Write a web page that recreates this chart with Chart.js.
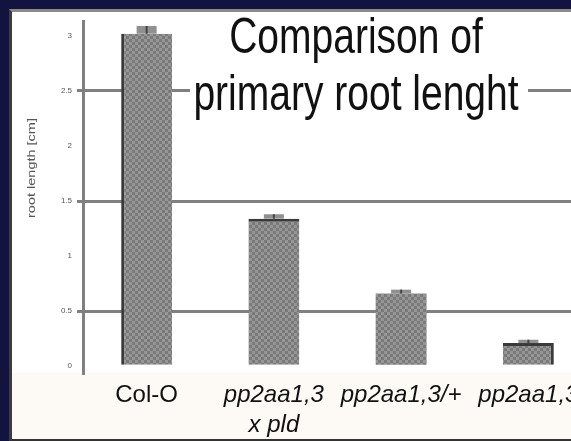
<!DOCTYPE html>
<html lang="en">
<head>
    <meta charset="UTF-8">
    <title>Comparison of primary root lenght</title>
    <script src="https://cdn.jsdelivr.net/npm/chart.js@4/dist/chart.umd.min.js"></script>
    <style>
        body { margin: 0; background: #131340; width: 571px; height: 441px; overflow: hidden; }
        #frame {
            position: absolute; left: 9px; top: 9px; width: 600px; height: 427px;
            border-left: 3px solid #3c3c3c; border-top: 3px solid #8a8a8a; border-bottom: 2px solid #333;
        }
        #clip {
            position: absolute; left: 0; top: 0; width: 559px; height: 427px; overflow: hidden;
            background: linear-gradient(#fff 0, #fff 361px, #fdfaf6 361px);
        }
    </style>
</head>
<body>
    <div id="frame">
        <div id="clip">
            <canvas id="rootChart" width="580" height="427"></canvas>
        </div>
    </div>

    <script>
        // data
        const categories = ['Col-O', ['pp2aa1,3', 'x pld'], 'pp2aa1,3/+', 'pp2aa1,3'];
        const rootLength = [3.02, 1.34, 0.66, 0.21];
        const rootLengthErr = [0.07, 0.04, 0.035, 0.03];
        const yTicks = [0, 0.5, 1, 1.5, 2, 2.5, 3];
        const gridTicks = [0.5, 1.5, 2.5];

        const canvas = document.getElementById('rootChart');
        const ctx = canvas.getContext('2d');

        // checkered grey fill like the scanned bars
        const pc = document.createElement('canvas');
        pc.width = 6; pc.height = 6;
        const p = pc.getContext('2d');
        p.fillStyle = '#969696'; p.fillRect(0, 0, 6, 6);
        p.fillStyle = '#7a7a7a'; p.fillRect(0, 0, 3, 3); p.fillRect(3, 3, 3, 3);
        const barPattern = ctx.createPattern(pc, 'repeat');

        const overlay = {
            id: 'overlay',
            afterDatasetsDraw(chart) {
                const c = chart.ctx;
                const y = chart.scales.y;
                chart.getDatasetMeta(0).data.forEach((bar, i) => {
                    const top = y.getPixelForValue(rootLength[i] + rootLengthErr[i]);
                    const bottom = y.getPixelForValue(rootLength[i]);
                    c.save();
                    c.fillStyle = '#909090';
                    c.fillRect(bar.x - 10, top, 20, bottom - top);
                    c.fillStyle = '#444';
                    c.fillRect(bar.x - 1, top, 2, bottom - top);
                    c.restore();
                });
            },
            afterDraw(chart) {
                const c = chart.ctx;
                c.save();
                // title sits in a white box over the grid
                c.fillStyle = '#fff';
                c.fillRect(178, 0, 338, 113);
                c.translate(344, 0);
                c.scale(0.78, 1);
                c.fillStyle = '#111';
                c.font = '50px "Liberation Sans", Arial, sans-serif';
                c.textAlign = 'center';
                c.textBaseline = 'alphabetic';
                c.fillText('Comparison of', 0, 41);
                c.fillText('primary root lenght', 0, 98);
                c.restore();

                // tiny rotated axis title
                c.save();
                c.translate(20, 156);
                c.rotate(-Math.PI / 2);
                c.scale(1.45, 1);
                c.fillStyle = '#555';
                c.font = '10px "Liberation Sans", Arial, sans-serif';
                c.textAlign = 'center';
                c.textBaseline = 'middle';
                c.fillText('root length [cm]', 0, 0);
                c.restore();
            }
        };

        new Chart(ctx, {
            type: 'bar',
            data: {
                labels: categories,
                datasets: [{
                    data: rootLength,
                    backgroundColor: barPattern,
                    borderColor: '#3a3a3a',
                    borderSkipped: false,
                    borderWidth: [
                        { left: 3, top: 0, right: 0, bottom: 0 },
                        { left: 0, top: 3, right: 0, bottom: 0 },
                        0,
                        { left: 0, top: 3, right: 3, bottom: 0 }
                    ],
                    barPercentage: 0.4,
                    categoryPercentage: 1
                }]
            },
            options: {
                responsive: false,
                animation: false,
                devicePixelRatio: 1,
                layout: { padding: 0 },
                plugins: {
                    legend: { display: false },
                    tooltip: { enabled: false }
                },
                scales: {
                    x: {
                        grid: { display: false, drawTicks: false },
                        border: { display: false },
                        ticks: {
                            color: '#111',
                            padding: 7,
                            maxRotation: 0,
                            minRotation: 0,
                            autoSkip: false,
                            font: c => ({
                                family: '"Liberation Sans", Arial, sans-serif',
                                size: 24,
                                style: c.index === 0 ? 'normal' : 'italic',
                                lineHeight: 1.25
                            })
                        },
                        afterFit: s => { s.height = 66; }
                    },
                    y: {
                        min: -0.062,
                        max: 3.128,
                        afterBuildTicks: s => { s.ticks = yTicks.map(v => ({ value: v })); },
                        afterFit: s => { s.width = 71; },
                        ticks: {
                            color: '#555',
                            padding: 5,
                            font: { family: '"Liberation Sans", Arial, sans-serif', size: 8 },
                            callback: v => String(v)
                        },
                        grid: {
                            color: c => (c.tick && gridTicks.includes(c.tick.value)) ? '#808080' : 'rgba(0,0,0,0)',
                            lineWidth: 3,
                            tickLength: 6
                        },
                        border: { color: '#808080', width: 3 }
                    }
                }
            },
            plugins: [overlay]
        });
    </script>
</body>
</html>
